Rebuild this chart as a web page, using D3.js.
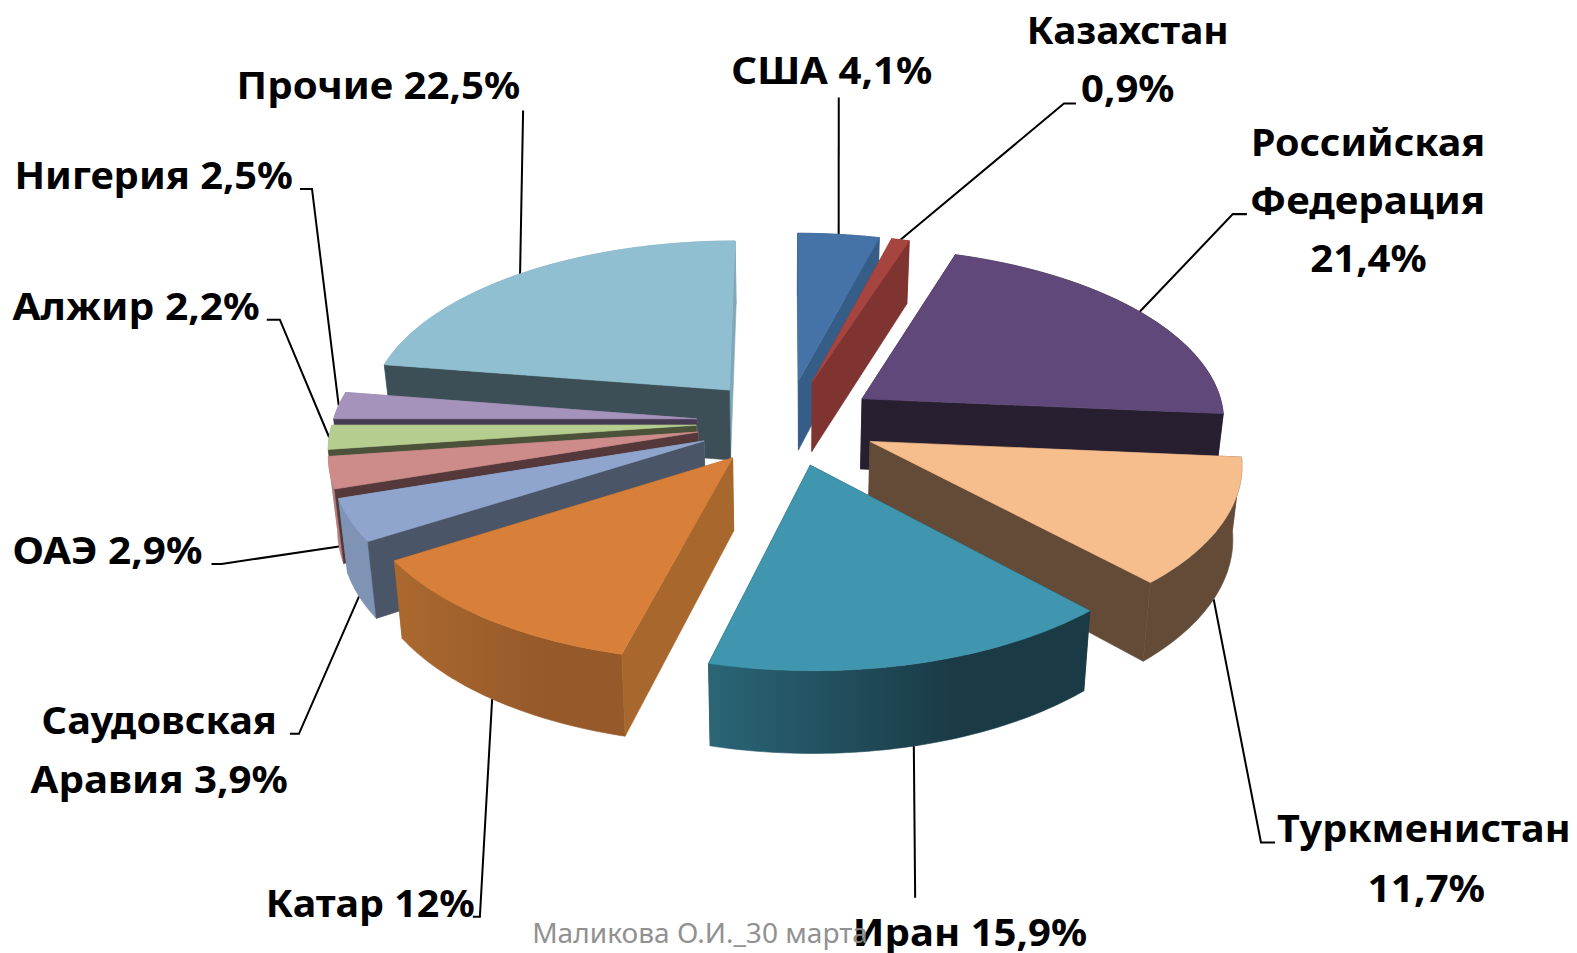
<!DOCTYPE html>
<html lang="ru">
  <head>
    <title>Доля стран</title>
    <meta charset="utf-8">
    <style>
    html, body { margin: 0; padding: 0; background: #fff; }
    svg { display: block; }
    text { font-family: "Noto Sans", "Open Sans", sans-serif; font-weight: 700; fill: #000; }
    </style>
  </head>
  <body>
    <svg width="1577" height="953" viewBox="0 0 1568 948"></svg>
    <script src="https://d3js.org/d3.v7.min.js"></script>
    <script>
      // "|" marks a line break in the label
      const categories = ["США", "Казахстан|", "Российская|Федерация|", "Туркменистан|", "Иран", "Катар", "Саудовская|Аравия", "ОАЭ", "Алжир", "Нигерия", "Прочие"];
      const shares = [4.1, 0.9, 21.4, 11.7, 15.9, 12, 3.9, 2.9, 2.2, 2.5, 22.5];
      const topColors = ["#4573a7", "#a6453f", "#60497a", "#f6be8d", "#3f96ae", "#d8803a", "#90a5cd", "#cd8c8a", "#b6cd90", "#a593bb", "#90bfd2"];
      const sideColors = ["#355d88", "#7f3431", "#271f30", "#644b37", "#1f4c5b", "#a8672d", "#4a5568", "#55383a", "#4b5239", "#453a52", "#3c4f56"];
      const outerLeft = ["#355d88", "#7f3431", "#271f30", "#644b37", "#2a6576", "#ab692e", "#7f93b5", "#b4807f", "#a0b480", "#9080a5", "#7fa8b8"];
      const outerRight = ["#355d88", "#7f3431", "#271f30", "#644b37", "#1a3a46", "#96592a", "#7f93b5", "#b4807f", "#a0b480", "#9080a5", "#7fa8b8"];

      // label layout: one [left, baseline, width] per text line, then the leader line bends
      const labelLines = [
        [[727, 84, 200]],
        [[1021, 44, 201], [1075, 101, 93]],
        [[1244, 155, 233], [1243, 213, 234], [1303, 271, 116]],
        [[1270, 838, 292], [1360, 897, 117]],
        [[848, 941, 233]],
        [[264, 912, 208]],
        [[41, 730, 234], [30, 789, 256]],
        [[12, 561, 189]],
        [[12, 318, 246]],
        [[14, 188, 277]],
        [[235, 98, 282]]
      ];
      const leaderBends = [
        [[834, 97]],
        [[1058, 103], [1070, 103]],
        [[1226, 213], [1240, 213]],
        [[1254, 838], [1268, 838]],
        [[910, 893]],
        [[477, 912], [470, 912]],
        [[297, 730], [288, 730]],
        [[220, 561], [210, 561]],
        [[278, 318], [265, 318]],
        [[310, 188], [298, 188]],
        [[520, 110]]
      ];

      const cx = 782.8, cy = 420, radiusX = 362, radiusY = 171.5;
      const perspective = 0.111, explode = 0.25, depth = 71, bottomShrink = 0.98;

      const svg = d3.select("svg");
      const defs = svg.append("defs");
      const line = d3.line();
      const pie = d3.pie().sort(null)(shares);

      // world point on the disc (x right, y away from the viewer) to screen
      const project = (p, bottom) => {
        const s = 1 / (1 + perspective * p[1]);
        const k = bottom ? bottomShrink : 1;
        return [cx + radiusX * p[0] * s * k, cy - radiusY * p[1] * s + (bottom ? depth * s : 0)];
      };

      const slices = pie.map((d, i) => {
        const mid = (d.startAngle + d.endAngle) / 2;
        const apex = [explode * Math.sin(mid), explode * Math.cos(mid)];
        const rim = a => [apex[0] + Math.sin(a), apex[1] + Math.cos(a)];
        return { i, mid, apex, rim, start: d.startAngle, end: d.endAngle };
      });

      const wall = (a, b) => [project(a), project(b), project(b, true), project(a, true)];

      const leaders = svg.append("g").attr("fill", "none").attr("stroke", "#000").attr("stroke-width", 2);
      slices.forEach(s => {
        const front = Math.cos(s.mid) < -0.2;
        const from = project(s.rim(s.mid), front);
        leaders.append("path").attr("d", line([from].concat(leaderBends[s.i])));
      });

      // far slices first
      const drawOrder = slices.slice().sort((a, b) => Math.cos(b.mid) - Math.cos(a.mid));
      const pies = svg.append("g");
      drawOrder.forEach(s => {
        const g = pies.append("g");
        const side = sideColors[s.i];
        const poly = (pts, fill) => g.append("path").attr("d", line(pts) + "Z").attr("fill", fill).attr("stroke", fill).attr("stroke-width", 0.6);
        const startWall = wall(s.apex, s.rim(s.start));
        const endWall = wall(s.apex, s.rim(s.end));
        // radial walls: the one turned away goes under the rim wall
        const startFront = Math.sin(s.start) < 0;
        const endFront = Math.sin(s.end) > 0;
        if (!startFront) poly(startWall, outerRight[s.i]);
        if (!endFront) poly(endWall, outerRight[s.i]);

        const steps = d3.range(s.start, s.end, Math.PI / 180).concat([s.end]);
        const rimTop = steps.map(a => project(s.rim(a)));
        const rimBottom = steps.map(a => project(s.rim(a), true)).reverse();
        const xs = d3.extent(rimTop.concat(rimBottom), p => p[0]);
        const gradient = defs.append("linearGradient")
          .attr("id", "rim" + s.i)
          .attr("gradientUnits", "userSpaceOnUse")
          .attr("x1", xs[0]).attr("x2", xs[1]).attr("y1", 0).attr("y2", 0);
        gradient.append("stop").attr("offset", 0).attr("stop-color", outerLeft[s.i]);
        gradient.append("stop").attr("offset", 0.65).attr("stop-color", outerRight[s.i]);
        poly(rimTop.concat(rimBottom), "url(#rim" + s.i + ")");

        if (startFront) poly(startWall, side);
        if (endFront) poly(endWall, side);
        poly([project(s.apex)].concat(rimTop), topColors[s.i]);
      });

      const labelText = i => {
        const name = categories[i];
        const value = String(shares[i]).replace(".", ",") + "%";
        return (name.endsWith("|") ? name : name + " ") + value;
      };
      labelLines.forEach((rows, i) => {
        const parts = labelText(i).split("|");
        rows.forEach((r, j) => {
          svg.append("text")
            .attr("x", r[0])
            .attr("y", r[1])
            .attr("font-size", 37)
            .attr("textLength", r[2])
            .attr("lengthAdjust", "spacingAndGlyphs")
            .text(parts[j]);
        });
      });

      svg.append("text")
        .attr("x", 529)
        .attr("y", 938)
        .attr("font-size", 27)
        .attr("textLength", 334)
        .attr("lengthAdjust", "spacingAndGlyphs")
        .style("font-weight", 400)
        .style("fill", "#8c8c8c")
        .style("opacity", 0.95)
        .text("Маликова О.И._30 марта");
    </script>
  </body>
</html>
